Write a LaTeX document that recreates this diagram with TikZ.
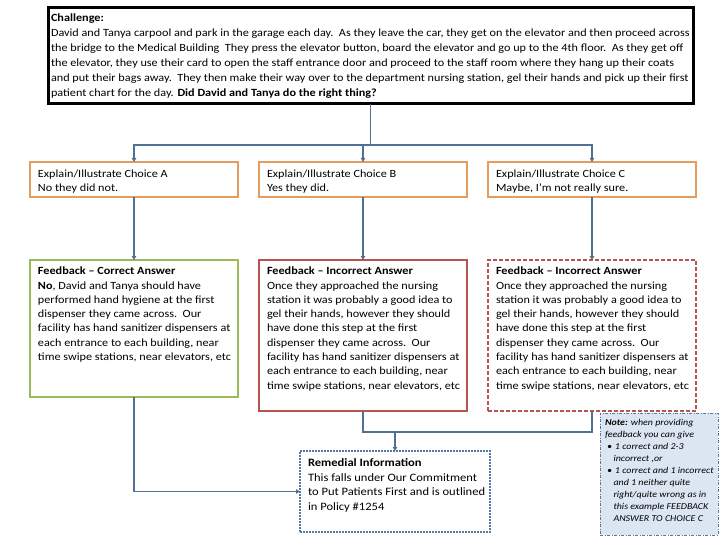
\documentclass[tikz,border=0pt]{standalone}
\usepackage{fontspec}
\setmainfont{Carlito}[FakeStretch=1.11]
\usetikzlibrary{arrows.meta}
\definecolor{conn}{RGB}{80,112,148}
\definecolor{orangeb}{RGB}{228,157,92}
\definecolor{greenb}{RGB}{155,187,89}
\definecolor{redb}{RGB}{184,84,80}
\definecolor{blueb}{RGB}{85,120,165}
\definecolor{notefill}{RGB}{220,230,242}
\newcommand{\tbox}[3]{\parbox[c][#2][t]{#1}{\raggedright #3}}
\begin{document}
\begin{tikzpicture}[x=1pt,y=-1pt,
  box/.style={draw, rectangle, anchor=north west, inner xsep=0pt, inner ysep=0pt, outer sep=0pt},
  chal/.style={box, line width=3pt, draw=black},
  choice/.style={box, line width=2.7pt, draw=orangeb},
  fbgood/.style={box, line width=2.7pt, draw=greenb},
  fbbad/.style={box, line width=2.7pt, draw=redb},
  fbbaddash/.style={box, line width=2.5pt, draw=redb, dash pattern=on 4pt off 2pt},
  remedial/.style={box, line width=2.5pt, draw=blueb, dash pattern=on 2pt off 1pt},
  notebox/.style={box, line width=0.8pt, draw=blueb, fill=notefill, dash pattern=on 3pt off 1.5pt on 1pt off 1.5pt},
  conline/.style={draw=conn, line width=1.6pt},
  conarrow/.style={conline, -{Triangle[length=4pt,width=4.5pt]}},
  body/.style={font=\fontsize{11}{14.3}\selectfont}
]
\useasboundingbox (0,0) rectangle (720,540);

% Challenge
\node[chal, font=\fontsize{11}{15}\selectfont] (chal) at (48,8)
  {\hspace*{3pt}\tbox{639pt}{96pt}{\vspace*{6pt}\textbf{Challenge:}\\
David and Tanya carpool and park in the garage each day.\ \ As they leave the car, they get on the elevator and then proceed across\\
the bridge to the Medical Building\ \ They press the elevator button, board the elevator and go up to the 4th floor.\ \ As they get off\\
the elevator, they use their card to open the staff entrance door and proceed to the staff room where they hang up their coats\\
and put their bags away.\ \ They then make their way over to the department nursing station, gel their hands and pick up their first\\
patient chart for the day. \textbf{Did David and Tanya do the right thing?}}\hspace*{3pt}};

% Choices
\node[choice, body] (chA) at (30,162)
  {\hspace*{8pt}\tbox{200pt}{35pt}{\vspace*{8pt}Explain/Illustrate Choice A\\No they did not.}};
\node[choice, body] (chB) at (259,162)
  {\hspace*{8pt}\tbox{200pt}{35pt}{\vspace*{8pt}Explain/Illustrate Choice B\\Yes they did.}};
\node[choice, body] (chC) at (488,162)
  {\hspace*{8pt}\tbox{200pt}{35pt}{\vspace*{8pt}Explain/Illustrate Choice C\\Maybe, I'm not really sure.}};

% Feedback
\node[fbgood, body] (fbA) at (30,260)
  {\hspace*{8pt}\tbox{200pt}{137pt}{\vspace*{7pt}\textbf{Feedback – Correct Answer}\\
\textbf{No}, David and Tanya should have\\
performed hand hygiene at the first\\
dispenser they came across.\ \ Our\\
facility has hand sanitizer dispensers at\\
each entrance to each building, near\\
time swipe stations, near elevators, etc}};
\node[fbbad, body] (fbB) at (259,260)
  {\hspace*{8pt}\tbox{200pt}{151pt}{\vspace*{7pt}\textbf{Feedback – Incorrect Answer}\\
Once they approached the nursing\\
station it was probably a good idea to\\
gel their hands, however they should\\
have done this step at the first\\
dispenser they came across.\ \ Our\\
facility has hand sanitizer dispensers at\\
each entrance to each building, near\\
time swipe stations, near elevators, etc}};
\node[fbbaddash, body] (fbC) at (488,260)
  {\hspace*{8pt}\tbox{200pt}{151pt}{\vspace*{7pt}\textbf{Feedback – Incorrect Answer}\\
Once they approached the nursing\\
station it was probably a good idea to\\
gel their hands, however they should\\
have done this step at the first\\
dispenser they came across.\ \ Our\\
facility has hand sanitizer dispensers at\\
each entrance to each building, near\\
time swipe stations, near elevators, etc}};

% Remedial
\node[remedial, font=\fontsize{11.3}{14.4}\selectfont] (rem) at (300,451)
  {\hspace*{8pt}\tbox{182pt}{81pt}{\vspace*{8pt}\textbf{Remedial Information}\\
This falls under Our Commitment\\
to Put Patients First and is outlined\\
in Policy \#1254}};

% Note
\node[notebox, font=\fontsize{9}{12}\selectfont\itshape] (note) at (600,413)
  {\hspace*{5pt}\tbox{113pt}{122pt}{\vspace*{6pt}\textbf{Note:} when providing\\
feedback you can give\\
\hspace*{2pt}\textbullet\hspace*{3pt}1 correct and 2-3\\
\hspace*{8.5pt}incorrect ,or\\
\hspace*{2pt}\textbullet\hspace*{3pt}1 correct and 1 incorrect\\
\hspace*{8.5pt}and 1 neither quite\\
\hspace*{8.5pt}right/quite wrong as in\\
\hspace*{8.5pt}this example FEEDBACK\\
\hspace*{8.5pt}ANSWER TO CHOICE C}};

% Connectors: challenge to choices
\coordinate (split) at (chal.south |- 0,145);
\draw[conline] (chal.south) -- (split);
\draw[conarrow] (split) -| (chA.north);
\draw[conarrow] (split) -| (chC.north);
\draw[conarrow] (chB.north |- split) -- (chB.north);

% choices to feedback
\draw[conarrow] (chA.south) -- (fbA.north);
\draw[conarrow] (chB.south) -- (fbB.north);
\draw[conarrow] (chC.south) -- (fbC.north);

% feedback to remedial
\coordinate (join) at (fbB.south |- 0,432);
\draw[conline] (fbB.south) -- (join) -| (fbC.south);
\draw[conarrow] (rem.north |- join) -- (rem.north);
\draw[conarrow] (fbA.south) |- (rem.west);
\end{tikzpicture}
\end{document}
